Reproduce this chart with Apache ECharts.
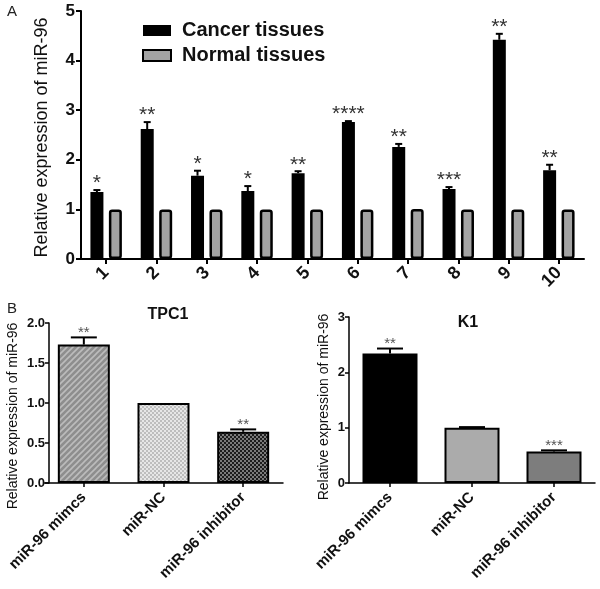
<!DOCTYPE html>
<html>
<head>
<meta charset="utf-8">
<script src="https://cdn.jsdelivr.net/npm/echarts@6/dist/echarts.min.js"></script>
<style>html,body{margin:0;padding:0;background:#fff}#main{width:600px;height:589px}</style>
</head>
<body>
<div id="main"></div>
<script>
// ---- Panel A data ----
const catsA = ['1','2','3','4','5','6','7','8','9','10'];
const cancer = [1.35, 2.62, 1.68, 1.37, 1.73, 2.76, 2.26, 1.41, 4.42, 1.79];
const cancerErr = [0.04, 0.14, 0.10, 0.10, 0.04, 0.02, 0.06, 0.04, 0.12, 0.11];
const normal = [1, 1, 1, 1, 1, 1, 1.01, 1, 1, 1];
const sigA = ['*','**','*','*','**','****','**','***','**','**'];
const yTicksA = [0, 1, 2, 3, 4, 5];

// ---- Panel B data ----
const catsB = ['miR-96 mimcs', 'miR-NC', 'miR-96 inhibitor'];
const tpc1 = [1.73, 1.0, 0.64];
const tpc1Err = [0.09, 0, 0.03];
const sigTPC1 = ['**', '', '**'];
const k1 = [2.34, 1.0, 0.57];
const k1Err = [0.09, 0.01, 0.02];
const sigK1 = ['**', '', '***'];
const yTicksTPC1 = ['0.0','0.5','1.0','1.5','2.0'];
const yTicksK1 = [0, 1, 2, 3];

const FONT = 'Liberation Sans, Arial, sans-serif';

function pattern(kind) {
  const c = document.createElement('canvas');
  if (kind === 'stripe') {
    c.width = 6; c.height = 6;
    const g = c.getContext('2d');
    g.fillStyle = '#8e8e8e'; g.fillRect(0, 0, 6, 6);
    g.strokeStyle = '#bcbcbc'; g.lineWidth = 1.6;
    g.beginPath();
    g.moveTo(-1, 7); g.lineTo(7, -1);
    g.moveTo(-4, 4); g.lineTo(4, -4);
    g.moveTo(2, 10); g.lineTo(10, 2);
    g.stroke();
  } else {
    c.width = 4; c.height = 4;
    const g = c.getContext('2d');
    const a = kind === 'light' ? '#e6e6e6' : '#1c1c1c';
    const b = kind === 'light' ? '#bdbdbd' : '#7a7a7a';
    g.fillStyle = a; g.fillRect(0, 0, 4, 4);
    g.fillStyle = b; g.fillRect(0, 0, 2, 2); g.fillRect(2, 2, 2, 2);
  }
  return { image: c, repeat: 'repeat' };
}

function errRender(vals, errs, sigs, offsetPx, capHalf, fontSize, color, labelShift) {
  return function (params, api) {
    const i = params.dataIndex;
    const v = vals[i], e = errs[i];
    const p0 = api.coord([i, v]);
    const p1 = api.coord([i, v + e]);
    const cx = p0[0] + offsetPx;
    const children = [];
    if (e > 0) {
      children.push({ type: 'line', shape: { x1: cx, y1: p0[1], x2: cx, y2: p1[1] }, style: { stroke: '#000', lineWidth: 2 } });
      children.push({ type: 'line', shape: { x1: cx - capHalf, y1: p1[1], x2: cx + capHalf, y2: p1[1] }, style: { stroke: '#000', lineWidth: 2 } });
    }
    if (sigs[i]) {
      children.push({ type: 'text', x: cx, y: p1[1] + labelShift, style: { text: sigs[i], fill: color, font: fontSize + 'px ' + FONT, align: 'center', verticalAlign: 'bottom' } });
    }
    return { type: 'group', children: children };
  };
}

const axisLine = { lineStyle: { color: '#000', width: 2 } };
const axisTick = { show: true, length: 5, lineStyle: { color: '#000', width: 2 } };

const option = {
  animation: false,
  backgroundColor: '#fff',
  textStyle: { fontFamily: FONT },
  graphic: [
    { type: 'text', left: 7, top: 4, style: { text: 'A', font: '15px ' + FONT, fill: '#222' } },
    { type: 'text', left: 7, top: 301, style: { text: 'B', font: '15px ' + FONT, fill: '#222' } },
    { type: 'text', x: 168, y: 315, style: { text: 'TPC1', font: 'bold 16px ' + FONT, fill: '#111', align: 'center', verticalAlign: 'middle' } },
    { type: 'text', x: 468, y: 323, style: { text: 'K1', font: 'bold 16px ' + FONT, fill: '#111', align: 'center', verticalAlign: 'middle' } }
  ],
  legend: {
    data: ['Cancer tissues', 'Normal tissues'],
    orient: 'vertical', left: 137, top: 15,
    itemWidth: 28, itemHeight: 11, itemGap: 4,
    icon: 'rect',
    textStyle: { fontSize: 20, fontWeight: 'bold', color: '#111', lineHeight: 21, padding: [0, 0, 0, 6] }
  },
  grid: [
    { left: 81, top: 11, width: 503, height: 248 },
    { left: 44, top: 323, width: 239, height: 160 },
    { left: 349, top: 317, width: 246, height: 166 }
  ],
  xAxis: [
    { gridIndex: 0, type: 'category', data: catsA, axisLine: axisLine, axisTick: Object.assign({ alignWithLabel: true }, axisTick),
      axisLabel: { rotate: 45, fontSize: 18, fontWeight: 'bold', color: '#111', margin: 11, interval: 0 } },
    { gridIndex: 1, type: 'category', data: catsB, axisLine: { lineStyle: { color: '#000', width: 1.5 } },
      axisTick: { show: true, alignWithLabel: true, length: 4, lineStyle: { color: '#000', width: 1.5 } },
      axisLabel: { rotate: 45, fontSize: 15, fontWeight: 'bold', color: '#111', margin: 12, interval: 0 } },
    { gridIndex: 2, type: 'category', data: catsB, axisLine: { lineStyle: { color: '#000', width: 1.5 } },
      axisTick: { show: true, alignWithLabel: true, length: 4, lineStyle: { color: '#000', width: 1.5 } },
      axisLabel: { rotate: 45, fontSize: 15, fontWeight: 'bold', color: '#111', margin: 12, interval: 0 } }
  ],
  yAxis: [
    { gridIndex: 0, type: 'value', min: 0, max: 5, interval: 1, splitLine: { show: false },
      axisLine: Object.assign({ show: true }, axisLine), axisTick: axisTick,
      axisLabel: { fontSize: 17, fontWeight: 'bold', color: '#111', margin: 6, formatter: v => String(yTicksA[Math.round(v)]) },
      name: 'Relative expression of miR-96', nameLocation: 'middle', nameGap: 30, nameRotate: 90,
      nameTextStyle: { fontSize: 18, color: '#111', padding: [0, 5, 0, 0] } },
    { gridIndex: 1, type: 'value', min: 0, max: 2, interval: 0.5, offset: -5, splitLine: { show: false },
      axisLine: { show: true, lineStyle: { color: '#000', width: 1.5 } },
      axisTick: { show: true, length: 4, lineStyle: { color: '#000', width: 1.5 } },
      axisLabel: { fontSize: 13, fontWeight: 'bold', color: '#111', margin: 4, formatter: v => yTicksTPC1[Math.round(v * 2)] },
      name: 'Relative expression of miR-96', nameLocation: 'middle', nameGap: 29, nameRotate: 90,
      nameTextStyle: { fontSize: 14, color: '#111', padding: [0, 26, 0, 0] } },
    { gridIndex: 2, type: 'value', min: 0, max: 3, interval: 1, splitLine: { show: false },
      axisLine: { show: true, lineStyle: { color: '#000', width: 1.5 } },
      axisTick: { show: true, length: 4, lineStyle: { color: '#000', width: 1.5 } },
      axisLabel: { fontSize: 13, fontWeight: 'bold', color: '#111', margin: 4, formatter: v => String(yTicksK1[Math.round(v)]) },
      name: 'Relative expression of miR-96', nameLocation: 'middle', nameGap: 18, nameRotate: 90,
      nameTextStyle: { fontSize: 14, color: '#111', padding: [0, 14, 0, 0] } }
  ],
  series: [
    { name: 'Cancer tissues', type: 'bar', xAxisIndex: 0, yAxisIndex: 0, data: cancer, barWidth: 13, barGap: '42%',
      itemStyle: { color: '#000' } },
    { name: 'Normal tissues', type: 'bar', xAxisIndex: 0, yAxisIndex: 0, data: normal, barWidth: 13, barGap: '42%',
      itemStyle: { color: '#a3a3a3', borderColor: '#000', borderWidth: 2.5, borderRadius: 2 } },
    { type: 'custom', xAxisIndex: 0, yAxisIndex: 0, data: cancer.map((v, i) => [i, v]), z: 5,
      renderItem: errRender(cancer, cancerErr, sigA, -9.25, 3.5, 21, '#333', 4) },

    { type: 'bar', xAxisIndex: 1, yAxisIndex: 1, barWidth: 52,
      data: tpc1.map((v, i) => ({ value: v, itemStyle: { color: pattern(['stripe', 'light', 'dark'][i]) } })),
      itemStyle: { borderColor: '#000', borderWidth: 2 } },
    { type: 'custom', xAxisIndex: 1, yAxisIndex: 1, data: tpc1.map((v, i) => [i, v]), z: 5,
      renderItem: errRender(tpc1, tpc1Err, sigTPC1, 0, 13, 15, '#555', 3) },

    { type: 'bar', xAxisIndex: 2, yAxisIndex: 2, barWidth: 55,
      data: k1.map((v, i) => ({ value: v, itemStyle: { color: ['#000', '#ababab', '#7d7d7d'][i] } })),
      itemStyle: { borderColor: '#000', borderWidth: 2 } },
    { type: 'custom', xAxisIndex: 2, yAxisIndex: 2, data: k1.map((v, i) => [i, v]), z: 5,
      renderItem: errRender(k1, k1Err, sigK1, 0, 13, 15, '#555', 3) }
  ]
};

const chart = echarts.init(document.getElementById('main'));
chart.setOption(option);
</script>
</body>
</html>
